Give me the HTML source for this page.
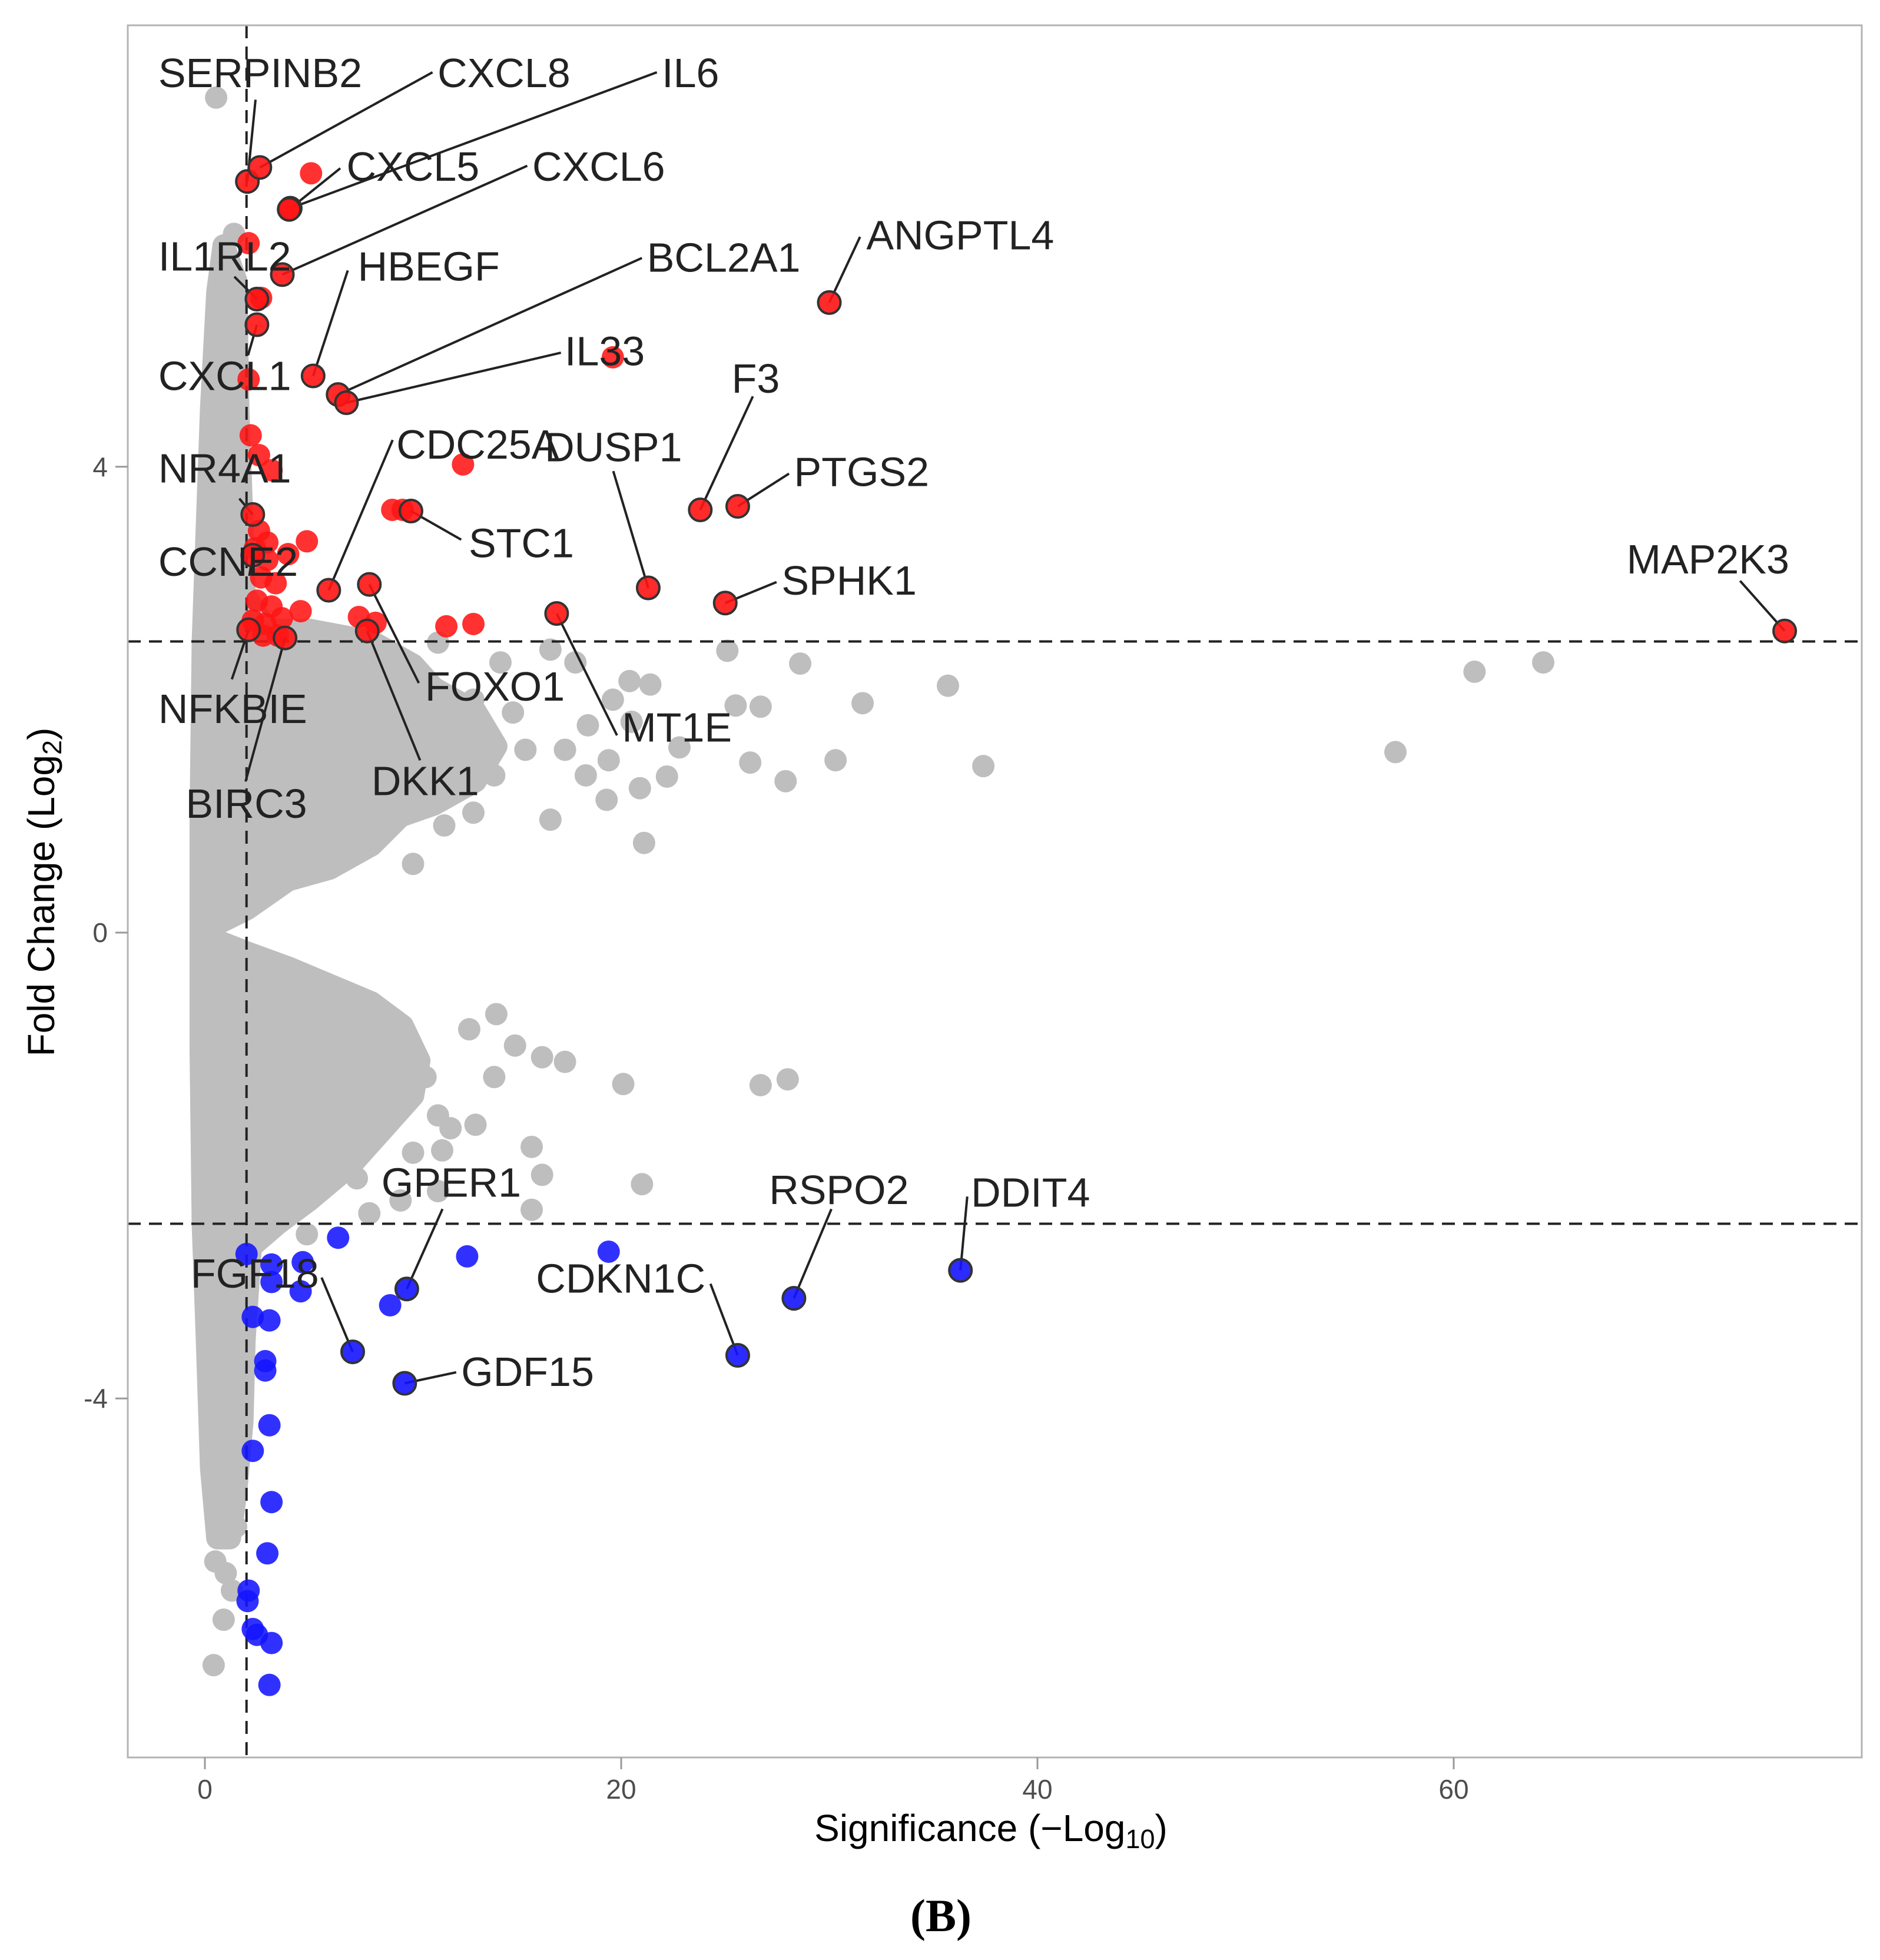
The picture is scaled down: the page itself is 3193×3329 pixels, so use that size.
<!DOCTYPE html>
<html><head><meta charset="utf-8"><style>
html,body{margin:0;padding:0;background:#fff;}
svg{display:block;}
text{font-family:"Liberation Sans",Arial,sans-serif;}
</style></head><body>
<svg id="chart" width="3193" height="3329" viewBox="0 0 3193 3329" xmlns="http://www.w3.org/2000/svg">
<rect x="0" y="0" width="3193" height="3329" fill="#fff"/>
<g id="plot"></g>
<rect x="217" y="43" width="2945" height="2942" fill="none" stroke="#b3b3b3" stroke-width="3"/>
<g id="axes"></g>
<text x="1683" y="3127" font-size="64" fill="#000" text-anchor="middle">Significance (−Log<tspan font-size="45" dy="12">10</tspan><tspan dy="-12">)</tspan></text>
<text transform="translate(92,1515) rotate(-90)" font-size="64" fill="#000" text-anchor="middle">Fold Change (Log<tspan font-size="45" dy="12">2</tspan><tspan dy="-12">)</tspan></text>
<text x="1598" y="3280" font-size="78" font-weight="bold" style="font-family:'Liberation Serif',serif" text-anchor="middle">(B)</text>
</svg>
<script>
// axis ticks
const xTicks = [0, 20, 40, 60];
const yTicks = [-4, 0, 4];
// significance thresholds
const fcThreshold = [2.5, -2.5];
const sigThreshold = [2];
// dense grey cloud outline (significance, log2 FC)
const cloudX = [0.9,1.5,1.6,1.8,1.9,3.0,5,8,10,11,13,14,13,11,9.4,8,6,4,2,0.3,0.3,2,4,6,8,9.5,10.3,10,8.5,7,5,3.5,2.2,1.9,1.8,1.5,1.2,0.6,0.3,0.1,-0.1,-0.2,-0.2,-0.1,0.1,0.3,0.6];
const cloudY = [5.9,5.6,4.5,3.5,2.9,2.6,2.6,2.5,2.3,2.1,1.9,1.6,1.3,1.1,1.0,0.75,0.55,0.45,0.2,0.05,-0.05,-0.17,-0.3,-0.45,-0.6,-0.8,-1.1,-1.4,-1.7,-2.0,-2.3,-2.5,-2.7,-3.5,-4.2,-4.8,-5.2,-5.2,-4.6,-3.5,-2.5,-1,1,2.5,3.5,4.5,5.5];
// grey non-significant points
const greyX = [0.54,0.42,64.3,61.0,57.2,35.7,37.4,31.6,30.3,28.6,27.9,26.7,26.2,25.5,25.1,22.8,22.2,21.4,20.4,21.1,20.9,19.3,19.4,20.5,19.6,18.4,17.3,18.3,16.6,14.2,14.8,15.4,13.9,12.9,11.5,10.0,17.8,16.6,11.2,12.9,14.0,12.7,14.9,16.2,17.3,20.1,28.0,26.7,21.0,15.7,15.7,16.2,13.9,11.2,11.8,13.0,8.2,10.0,11.4,7.9,9.4,11.2,7.3,5.8,10.6,9.4,7.6,4.9,1.0,1.3,1.5,0.9,1.2,0.5,1.6,1.4];
const greyY = [7.17,-6.29,2.32,2.24,1.55,2.12,1.43,1.97,1.48,2.31,1.30,1.94,1.46,1.95,2.42,1.59,1.34,2.13,2.16,0.77,1.24,1.14,1.48,1.81,2.0,1.78,1.57,1.35,0.97,2.32,1.89,1.57,1.35,1.03,0.92,0.59,2.32,2.43,2.49,2.0,-0.70,-0.83,-0.97,-1.07,-1.11,-1.30,-1.26,-1.31,-2.16,-1.84,-2.38,-2.08,-1.24,-1.57,-1.68,-1.65,-1.73,-1.89,-1.87,-2.41,-2.30,-2.22,-2.11,-2.16,-1.24,-1.14,-1.46,-2.59,-5.5,-5.65,-5.1,-5.9,-4.7,-5.4,-4.4,6.0];
// up-regulated, unlabeled
const redX = [5.1,2.1,2.7,2.1,19.6,12.4,2.2,2.6,3.2,9.0,9.5,11.6,12.9,4.6,4.9,7.4,8.2,2.4,3.0,2.7,3.4,2.5,3.2,3.7,2.9,4.0,3.5,2.3,2.8,2.6,3.0];
const redY = [6.52,5.92,5.45,4.75,4.94,4.02,4.27,4.1,3.97,3.63,3.63,2.63,2.65,2.76,3.36,2.71,2.66,3.3,3.2,3.05,3.0,2.85,2.8,2.7,2.65,3.25,2.55,2.68,2.55,3.45,3.35];
// up-regulated labeled genes
const upGenes = ["SERPINB2","CXCL8","IL6","CXCL5","CXCL6","IL1RL2","CXCL1","HBEGF","BCL2A1","IL33","ANGPTL4","F3","PTGS2","DUSP1","SPHK1","MAP2K3","CDC25A","STC1","FOXO1","DKK1","MT1E","NR4A1","CCNE2","NFKBIE","BIRC3"];
const upX = [2.04,2.64,4.1,4.05,3.72,2.5,2.5,5.2,6.4,6.8,30.0,23.8,25.6,21.3,25.0,75.9,5.95,9.9,7.9,7.8,16.9,2.3,2.3,2.1,3.85];
const upY = [6.45,6.57,6.22,6.21,5.65,5.44,5.22,4.78,4.62,4.55,5.41,3.63,3.66,2.96,2.83,2.59,2.94,3.62,2.99,2.59,2.74,3.59,3.24,2.6,2.53];
// down-regulated, unlabeled
const blueX = [6.4,12.6,19.4,8.9,4.7,4.6,3.2,3.2,2.0,2.3,3.1,2.9,2.9,3.1,2.3,3.2,3.0,2.1,2.05,2.3,2.5,3.2,3.1];
const blueY = [-2.62,-2.78,-2.74,-3.2,-2.83,-3.08,-2.85,-3.0,-2.76,-3.3,-3.33,-3.68,-3.76,-4.23,-4.45,-4.89,-5.33,-5.65,-5.74,-5.98,-6.03,-6.1,-6.46];
// down-regulated labeled genes
const downGenes = ["GPER1","FGF18","GDF15","CDKN1C","RSPO2","DDIT4"];
const downX = [9.7,7.1,9.6,25.6,28.3,36.3];
const downY = [-3.06,-3.6,-3.87,-3.63,-3.14,-2.9];

const NS = "http://www.w3.org/2000/svg";
const sx = v => 348 + v * 35.35;
const sy = v => 1584 - v * 197.8;
const R = 19;
const plot = document.getElementById('plot');
const axes = document.getElementById('axes');
function mk(tag, attrs, parent) {
  const e = document.createElementNS(NS, tag);
  for (const k in attrs) e.setAttribute(k, attrs[k]);
  parent.appendChild(e);
  return e;
}
let d = '';
for (let i = 0; i < cloudX.length; i++) d += (i ? 'L' : 'M') + sx(cloudX[i]).toFixed(1) + ',' + sy(cloudY[i]).toFixed(1);
const cloud = mk('path', {d: d + 'Z', fill: '#bebebe', stroke: '#bebebe', 'stroke-width': 2 * R, 'stroke-linejoin': 'round'}, plot);


for (let i = 0; i < greyX.length; i++) {
  const c = mk('circle', {cx: sx(greyX[i]), cy: sy(greyY[i]), r: R, fill: '#bebebe'}, plot);
  
  
}
fcThreshold.forEach(v => {
  const l = mk('line', {x1: 217, x2: 3162, y1: sy(v), y2: sy(v), stroke: '#222', 'stroke-width': 4, 'stroke-dasharray': '22,14'}, plot);
  
  
});
sigThreshold.forEach(v => {
  const l = mk('line', {x1: sx(v), x2: sx(v), y1: 43, y2: 2985, stroke: '#222', 'stroke-width': 4, 'stroke-dasharray': '22,14'}, plot);
  
  
});
for (let i = 0; i < redX.length; i++) {
  const c = mk('circle', {cx: sx(redX[i]), cy: sy(redY[i]), r: R, fill: 'rgba(255,20,20,0.88)'}, plot);
  
  
}
for (let i = 0; i < blueX.length; i++) {
  const c = mk('circle', {cx: sx(blueX[i]), cy: sy(blueY[i]), r: R, fill: 'rgba(20,20,255,0.88)'}, plot);
  
  
}
const S = 2.117;
const upLab = [[127,70,205,80],[351,70,347,58],[531,70,527,58],[278,145,273,135],[427,145,423,133],[127,217,188,222],[127,313,199,285],[287,225,279,217],[519,218,515,207],[453,293,450,283],[695,200,690,190],[587,315,604,318],[637,390,633,380],[437,370,492,378],[627,477,623,467],[1305,460,1396,466],[318,368,315,353],[376,447,370,433],[341,562,336,548],[298,638,337,610],[499,595,495,590],[127,387,192,400],[127,462,200,462],[127,580,186,545],[149,656,197,627]];
const downLab = [[306,960,355,970],[153,1033,258,1025],[370,1112,366,1101],[430,1037,570,1030],[617,966,667,970],[779,968,776,960]];
function labeled(names, xs, ys, labs, fill, kind) {
  for (let i = 0; i < names.length; i++) {
    const L = labs[i];
    const ln = mk('line', {x1: L[2] * S, y1: L[3] * S, x2: sx(xs[i]), y2: sy(ys[i]), stroke: '#222', 'stroke-width': 4}, plot);
    
    
  }
  for (let i = 0; i < names.length; i++) {
    const c = mk('circle', {cx: sx(xs[i]), cy: sy(ys[i]), r: R, fill: fill, stroke: '#333', 'stroke-width': 4}, plot);
    
    
  }
  for (let i = 0; i < names.length; i++) {
    const L = labs[i];
    const t = mk('text', {x: L[0] * S, y: L[1] * S, 'font-size': 70, fill: '#222'}, plot);
    t.textContent = names[i];
    
    
  }
}
labeled(upGenes, upX, upY, upLab, 'rgba(255,20,20,0.9)', 'up');
labeled(downGenes, downX, downY, downLab, 'rgba(20,20,255,0.9)', 'down');
xTicks.forEach(v => {
  const l = mk('line', {x1: sx(v), x2: sx(v), y1: 2985, y2: 3005, stroke: '#999', 'stroke-width': 3}, axes);
  
  
  const t = mk('text', {x: sx(v), y: 3055, 'font-size': 46, fill: '#4d4d4d', 'text-anchor': 'middle'}, axes);
  t.textContent = v;
  
  
});
yTicks.forEach(v => {
  const l = mk('line', {x1: 196, x2: 217, y1: sy(v), y2: sy(v), stroke: '#999', 'stroke-width': 3}, axes);
  
  
  const t = mk('text', {x: 183, y: sy(v) + 16, 'font-size': 46, fill: '#4d4d4d', 'text-anchor': 'end'}, axes);
  t.textContent = v;
  
  
});
</script>
</body></html>
